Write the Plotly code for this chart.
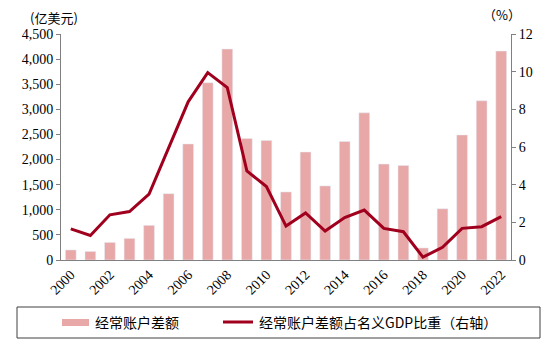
import plotly.graph_objects as go

years = [str(y) for y in range(2000, 2023)]
ca_balance = [200, 170, 350, 430, 690, 1320, 2310, 3530, 4200, 2420, 2380, 1355,
              2150, 1475, 2360, 2930, 1910, 1880, 240, 1020, 2490, 3170, 4160]
ca_gdp_pct = [1.65, 1.3, 2.4, 2.57, 3.5, 5.95, 8.4, 9.95, 9.15, 4.73, 3.9, 1.8,
              2.5, 1.54, 2.25, 2.65, 1.68, 1.5, 0.15, 0.67, 1.68, 1.77, 2.3]
left_ticks = [0, 500, 1000, 1500, 2000, 2500, 3000, 3500, 4000, 4500]
right_ticks = [0, 2, 4, 6, 8, 10, 12]
bar_name = "经常账户差额"
line_name = "经常账户差额占名义GDP比重（右轴）"

W, H = 550, 345
L, R, T, B = 61, 511, 34, 260
def px(x):
    return (x - L) / (R - L)
def py(y):
    return (B - y) / (B - T)

bar_color = "#E8A8A8"
line_color = "#A0001E"
serif = "Liberation Serif"
cjk = "Noto Sans CJK SC"

fig = go.Figure()
fig.add_trace(go.Bar(x=years, y=ca_balance, marker_color=bar_color, name=bar_name,
                     yaxis="y"))
fig.add_trace(go.Scatter(x=years, y=ca_gdp_pct, mode="lines", name=line_name,
                         line=dict(color=line_color, width=3), yaxis="y2"))

fig.update_layout(
    width=W, height=H,
    margin=dict(l=L, r=W - R, t=T, b=H - B),
    paper_bgcolor="white", plot_bgcolor="white",
    showlegend=False,
    bargap=0.45,
    xaxis=dict(type="category", tickangle=-45, tickvals=years[::2],
               showline=True, linecolor="#808080", linewidth=1,
               ticks="", tickfont=dict(family=serif, size=14, color="black")),
    yaxis=dict(range=[0, 4500], tickvals=left_ticks,
               ticktext=[f"{v:,}" for v in left_ticks],
               showline=True, linecolor="#808080", linewidth=1,
               ticks="outside", ticklen=4, tickcolor="#808080",
               showgrid=False, zeroline=False,
               tickfont=dict(family=serif, size=14, color="black")),
    yaxis2=dict(range=[0, 12], tickvals=right_ticks, overlaying="y", side="right",
                showline=True, linecolor="#808080", linewidth=1,
                ticks="outside", ticklen=4, tickcolor="#808080",
                showgrid=False, zeroline=False,
                tickfont=dict(family=serif, size=14, color="black")),
)

# axis unit labels
fig.add_annotation(text="(亿美元)", xref="paper", yref="paper", x=px(54), y=py(17),
                   showarrow=False, xanchor="center", yanchor="middle",
                   font=dict(family=cjk, size=13, color="black"))
fig.add_annotation(text="（%）", xref="paper", yref="paper", x=px(502), y=py(15),
                   showarrow=False, xanchor="center", yanchor="middle",
                   font=dict(family=cjk, size=13, color="black"))

# legend box
fig.add_shape(type="rect", xref="paper", yref="paper",
              x0=px(17), x1=px(540), y0=py(338), y1=py(307),
              line=dict(color="#404040", width=1), fillcolor="white")
fig.add_shape(type="rect", xref="paper", yref="paper",
              x0=px(62), x1=px(89), y0=py(326), y1=py(319),
              line=dict(width=0), fillcolor=bar_color)
fig.add_annotation(text=bar_name, xref="paper", yref="paper", x=px(93), y=py(322),
                   showarrow=False, xanchor="left", yanchor="middle",
                   font=dict(family=cjk, size=14, color="black"))
fig.add_shape(type="line", xref="paper", yref="paper",
              x0=px(223), x1=px(253), y0=py(322), y1=py(322),
              line=dict(color=line_color, width=3))
fig.add_annotation(text=line_name, xref="paper", yref="paper", x=px(257), y=py(322),
                   showarrow=False, xanchor="left", yanchor="middle",
                   font=dict(family=cjk, size=14, color="black"))

fig.write_html("out.html")
